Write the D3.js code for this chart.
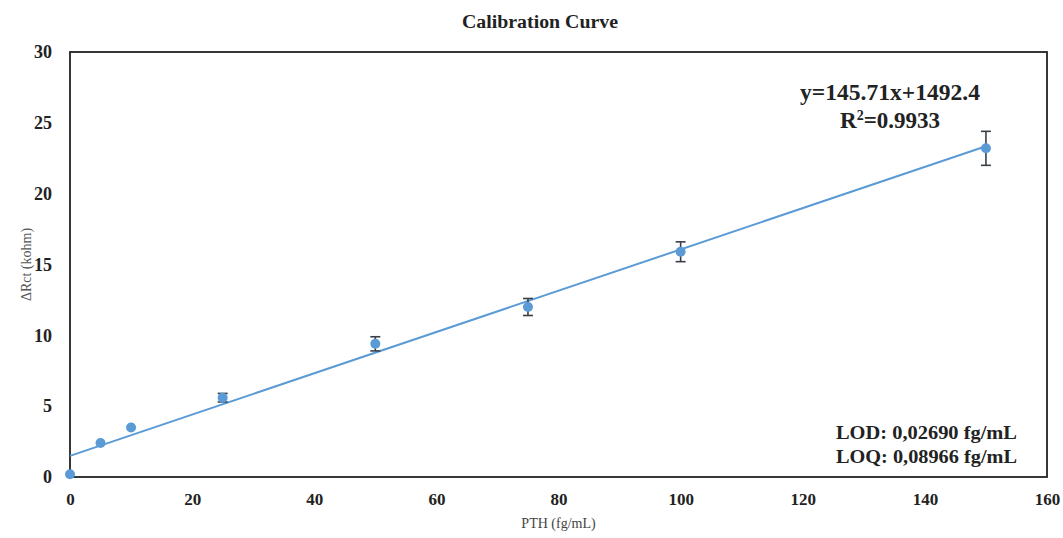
<!DOCTYPE html>
<html>
<head>
<meta charset="utf-8">
<script src="https://cdn.jsdelivr.net/npm/d3@7"></script>
<style>
  body { margin: 0; background: #fff; }
  svg { font-family: "Liberation Serif", "Times New Roman", serif; }
</style>
</head>
<body>
<svg width="1063" height="538"></svg>
<script>
// data
let concentrations = [0, 5, 10, 25, 50, 75, 100, 150];      // PTH (fg/mL)
let deltaRct       = [0.2, 2.4, 3.5, 5.6, 9.4, 12.0, 15.9, 23.2]; // kohm
let errors         = [0, 0, 0, 0.3, 0.5, 0.6, 0.7, 1.2];
let xTicks = [0, 20, 40, 60, 80, 100, 120, 140, 160];
let yTicks = [0, 5, 10, 15, 20, 25, 30];
let slope = 0.14571, intercept = 1.4924; // trend line in kohm

let svg = d3.select("svg"),
    margin = {top: 52, right: 16, bottom: 61, left: 70},
    width = +svg.attr("width") - margin.left - margin.right,
    height = +svg.attr("height") - margin.top - margin.bottom,
    blue = "#5b9bd5";

let x = d3.scaleLinear().domain([0, 160]).range([0, width]),
    y = d3.scaleLinear().domain([0, 30]).range([height, 0]);

let g = svg.append("g")
  .attr("transform", "translate(" + margin.left + "," + margin.top + ")");

// title
svg.append("text")
  .attr("x", 540).attr("y", 28)
  .attr("text-anchor", "middle")
  .attr("font-weight", "bold")
  .attr("font-size", 18)
  .attr("textLength", 156)
  .attr("lengthAdjust", "spacingAndGlyphs")
  .attr("fill", "#222")
  .text("Calibration Curve");

// frame
g.append("rect")
  .attr("width", width).attr("height", height)
  .attr("fill", "none")
  .attr("stroke", "#222")
  .attr("stroke-width", 1.8);

// axes (labels only, no ticks)
g.append("g")
  .attr("class", "axis axis-x")
  .attr("transform", "translate(0," + height + ")")
  .call(d3.axisBottom(x).tickValues(xTicks).tickSize(0).tickPadding(16))
  .call(a => a.select(".domain").remove())
  .selectAll("text")
    .attr("font-family", "Liberation Serif")
    .attr("font-size", 17)
    .attr("font-weight", "bold")
    .attr("fill", "#222");

g.append("g")
  .attr("class", "axis axis-y")
  .call(d3.axisLeft(y).tickValues(yTicks).tickSize(0).tickPadding(18))
  .call(a => a.select(".domain").remove())
  .selectAll("text")
    .attr("font-family", "Liberation Serif")
    .attr("font-size", 18)
    .attr("font-weight", "bold")
    .attr("fill", "#222");

// axis titles
svg.append("text")
  .attr("transform", "translate(31," + (margin.top + height / 2) + ") rotate(-90)")
  .attr("text-anchor", "middle")
  .attr("font-size", 14)
  .attr("fill", "#555")
  .text("ΔRct (kohm)");

svg.append("text")
  .attr("x", margin.left + x(80)).attr("y", 528)
  .attr("text-anchor", "middle")
  .attr("font-size", 14)
  .attr("fill", "#444")
  .text("PTH (fg/mL)");

// trend line
g.append("line")
  .attr("x1", x(0)).attr("y1", y(intercept))
  .attr("x2", x(150)).attr("y2", y(intercept + slope * 150))
  .attr("stroke", blue)
  .attr("stroke-width", 2);

let points = concentrations.map((c, i) => ({c: c, v: deltaRct[i], e: errors[i]}));

// error bars
let eb = g.selectAll(".err")
  .data(points.filter(d => d.e > 0))
  .enter().append("g")
  .attr("class", "err")
  .attr("stroke", "#3a3f47")
  .attr("stroke-width", 1.6);
eb.append("line")
  .attr("x1", d => x(d.c)).attr("x2", d => x(d.c))
  .attr("y1", d => y(d.v - d.e)).attr("y2", d => y(d.v + d.e));
eb.append("line")
  .attr("x1", d => x(d.c) - 5).attr("x2", d => x(d.c) + 5)
  .attr("y1", d => y(d.v + d.e)).attr("y2", d => y(d.v + d.e));
eb.append("line")
  .attr("x1", d => x(d.c) - 5).attr("x2", d => x(d.c) + 5)
  .attr("y1", d => y(d.v - d.e)).attr("y2", d => y(d.v - d.e));

// points
g.selectAll(".dot")
  .data(points)
  .enter().append("circle")
  .attr("class", "dot")
  .attr("cx", d => x(d.c))
  .attr("cy", d => y(d.v))
  .attr("r", 5)
  .attr("fill", blue);

// annotations
svg.append("text")
  .attr("x", 890).attr("y", 100)
  .attr("text-anchor", "middle")
  .attr("font-weight", "bold")
  .attr("font-size", 23)
  .attr("textLength", 180)
  .attr("lengthAdjust", "spacingAndGlyphs")
  .attr("fill", "#222")
  .text("y=145.71x+1492.4");

let r2 = svg.append("text")
  .attr("x", 890).attr("y", 128)
  .attr("text-anchor", "middle")
  .attr("font-weight", "bold")
  .attr("font-size", 23)
  .attr("fill", "#222");
r2.append("tspan").text("R");
r2.append("tspan").attr("dy", -8).attr("font-size", 14).text("2");
r2.append("tspan").attr("dy", 8).text("=0.9933");

let lod = svg.append("text")
  .attr("font-weight", "bold")
  .attr("font-size", 19)
  .attr("fill", "#222");
lod.append("tspan").attr("x", 836).attr("y", 439)
  .attr("textLength", 181).attr("lengthAdjust", "spacingAndGlyphs")
  .text("LOD: 0,02690 fg/mL");
lod.append("tspan").attr("x", 836).attr("y", 463)
  .attr("textLength", 181).attr("lengthAdjust", "spacingAndGlyphs")
  .text("LOQ: 0,08966 fg/mL");
</script>
</body>
</html>
